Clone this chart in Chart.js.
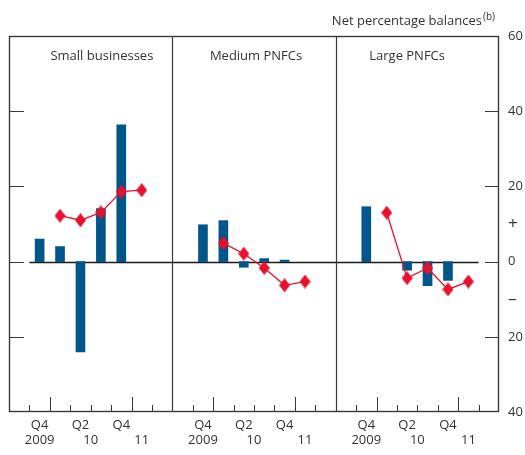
<!DOCTYPE html>
<html>
<head>
<meta charset="utf-8">
<script src="https://cdn.jsdelivr.net/npm/chart.js@4.4.1/dist/chart.umd.min.js"></script>
<style>
  html, body { margin: 0; padding: 0; background: #fff; }
</style>
</head>
<body>
<canvas id="chart" width="525" height="455"></canvas>
<script>
// quarters in each panel: Q3 2009 .. Q2 2011
const QUARTERS = ['2009 Q3', '2009 Q4', '2010 Q1', '2010 Q2', '2010 Q3', '2010 Q4', '2011 Q1', '2011 Q2'];
const PANELS = ['Small businesses', 'Medium PNFCs', 'Large PNFCs'];

// bars (null = nothing drawn)
const SMALL_BARS  = [null, 6, 4, -24, 14.1, 36.4, null, null];
const MEDIUM_BARS = [null, 9.8, 10.9, -1.5, 0.8, 0.4, null, null];
const LARGE_BARS  = [null, 14.6, null, -2.3, -6.4, -5.0, null, null];

// red diamonds
const SMALL_DIAMONDS  = [null, null, 12.2, 11.0, 13.1, 18.6, 19.0, null];
const MEDIUM_DIAMONDS = [null, null, 4.9, 2.1, -1.7, -6.3, -5.3, null];
const LARGE_DIAMONDS  = [null, null, 13.0, -4.4, -1.7, -7.4, -5.3, null];

const Q_LABELS = ['', 'Q4', '', 'Q2', '', 'Q4', '', ''];
const YEAR_LABELS = ['2009', '10', '11'];
const YEAR_SLOTS = [1.5, 4, 6.5];

const Y_TICKS = [60, 40, 20, 10, 0, -10, -20, -40];
const Y_TICK_LABELS = ['60', '40', '20', '+', '0', '\u2013', '20', '40'];
const Y_MARKS = [40, 20, 0, -20];

const TITLE_POS = [4.55, 12.1, 19.5];

const BLUE = '#00558b';
const RED = '#e8112d';
const TEXT = '#333333';
const LINE = '#3a3a3a';
const FONT = "'Open Sans', sans-serif";

const N = QUARTERS.length;
const allBars = [SMALL_BARS, MEDIUM_BARS, LARGE_BARS];
const allDiamonds = [SMALL_DIAMONDS, MEDIUM_DIAMONDS, LARGE_DIAMONDS];

// build points across the three panels
const barPoints = [];
const linePoints = [];
allBars.forEach((arr, p) => {
  arr.forEach((v, i) => { if (v !== null) barPoints.push({ x: p * N + i + 0.5, y: v }); });
});
allDiamonds.forEach((arr, p) => {
  arr.forEach((v, i) => { if (v !== null) linePoints.push({ x: p * N + i + 0.5, y: v }); });
  linePoints.push({ x: p * N + N, y: null }); // break between panels
});

const qTicks = [], qText = [], yearTicks = [], yearText = [];
for (let p = 0; p < PANELS.length; p++) {
  Q_LABELS.forEach((l, i) => { if (l) { qTicks.push(p * N + i + 0.5); qText.push(l); } });
  YEAR_SLOTS.forEach((s, i) => { yearTicks.push(p * N + s); yearText.push(YEAR_LABELS[i]); });
}

// tall diamond marker
const diamond = document.createElement('canvas');
diamond.width = 11; diamond.height = 14;
const dctx = diamond.getContext('2d');
dctx.fillStyle = RED;
dctx.beginPath();
dctx.moveTo(5.5, 0); dctx.lineTo(11, 7); dctx.lineTo(5.5, 14); dctx.lineTo(0, 7);
dctx.closePath(); dctx.fill();

const panelFrame = {
  id: 'panelFrame',
  beforeDatasetsDraw(chart) {
    const { ctx, scales: { x, y } } = chart;
    const y0 = Math.round(y.getPixelForValue(0)) + 0.5;
    ctx.save();
    ctx.strokeStyle = '#1a1a1a';
    ctx.lineWidth = 1.3;
    ctx.beginPath();
    ctx.moveTo(x.getPixelForValue(1), y0);
    ctx.lineTo(x.getPixelForValue(PANELS.length * N - 1), y0);
    ctx.stroke();
    ctx.restore();
  },
  afterDatasetsDraw(chart) {
    const { ctx, chartArea: a, scales: { x, y } } = chart;
    ctx.save();
    ctx.strokeStyle = LINE;
    ctx.lineWidth = 1.4;
    ctx.strokeRect(a.left + 0.5, a.top + 0.5, a.width - 1, a.height - 1);

    ctx.lineWidth = 1.2;
    ctx.beginPath();
    for (let p = 1; p < PANELS.length; p++) {
      const px = Math.round(x.getPixelForValue(p * N)) + 0.5;
      ctx.moveTo(px, a.top); ctx.lineTo(px, a.bottom);
    }
    // y tick marks inside, both sides
    Y_MARKS.forEach(v => {
      const py = Math.round(y.getPixelForValue(v)) + 0.5;
      ctx.moveTo(a.left, py); ctx.lineTo(a.left + 15, py);
      ctx.moveTo(a.right - 14, py); ctx.lineTo(a.right, py);
    });
    ctx.stroke();

    // x tick marks at quarter boundaries, long ones at year ends
    ctx.lineWidth = 1;
    ctx.beginPath();
    for (let p = 0; p < PANELS.length; p++) {
      for (let k = 1; k < N; k++) {
        const px = Math.round(x.getPixelForValue(p * N + k)) + 0.5;
        const len = (k === 2 || k === 6) ? 15 : 7;
        ctx.moveTo(px, a.bottom);
        ctx.lineTo(px, a.bottom - len);
      }
    }
    ctx.stroke();

    ctx.fillStyle = TEXT;
    ctx.font = '13px ' + FONT;
    ctx.textAlign = 'center';
    ctx.textBaseline = 'middle';
    PANELS.forEach((t, i) => ctx.fillText(t, x.getPixelForValue(TITLE_POS[i]), a.top + 20));

    ctx.textAlign = 'right';
    ctx.textBaseline = 'alphabetic';
    ctx.fillText('Net percentage balances', a.right - 17, 25);
    ctx.textAlign = 'left';
    ctx.font = '10px ' + FONT;
    ctx.fillText('(b)', a.right - 16, 20);
    ctx.restore();
  }
};

new Chart(document.getElementById('chart'), {
  data: {
    datasets: [
      {
        type: 'line',
        data: linePoints,
        borderColor: RED,
        borderWidth: 1.3,
        pointStyle: diamond,
        spanGaps: false,
        order: 0
      },
      {
        type: 'bar',
        data: barPoints,
        backgroundColor: BLUE,
        barThickness: 9,
        order: 1
      }
    ]
  },
  options: {
    responsive: false,
    devicePixelRatio: 1,
    animation: false,
    layout: { padding: { left: 9, top: 36, right: 0, bottom: 0 } },
    plugins: { legend: { display: false }, tooltip: { enabled: false } },
    scales: {
      x: {
        type: 'linear',
        offset: false,
        min: 0,
        max: PANELS.length * N,
        grid: { display: false, drawTicks: false, offset: false },
        border: { display: false },
        afterBuildTicks: s => { s.ticks = qTicks.map(v => ({ value: v })); },
        afterFit: s => { s.height = 19; },
        ticks: {
          padding: 5,
          autoSkip: false,
          maxRotation: 0,
          color: TEXT,
          font: { family: FONT, size: 13 },
          callback: v => qText[qTicks.indexOf(v)]
        }
      },
      x2: {
        type: 'linear',
        position: 'bottom',
        offset: false,
        min: 0,
        max: PANELS.length * N,
        grid: { display: false, drawTicks: false },
        border: { display: false },
        afterBuildTicks: s => { s.ticks = yearTicks.map(v => ({ value: v })); },
        afterFit: s => { s.height = 24; },
        ticks: {
          padding: 1,
          autoSkip: false,
          maxRotation: 0,
          color: TEXT,
          font: { family: FONT, size: 13 },
          callback: v => yearText[yearTicks.indexOf(v)]
        }
      },
      y: {
        position: 'right',
        min: -40,
        max: 60,
        grid: { display: false, drawTicks: false },
        border: { display: false },
        afterBuildTicks: s => { s.ticks = Y_TICKS.map(v => ({ value: v })); },
        afterFit: s => { s.width = 26; },
        ticks: {
          padding: 9,
          color: TEXT,
          font: c => ({ family: FONT, size: (c.tick && (c.tick.value === 10 || c.tick.value === -10)) ? 17 : 13 }),
          callback: v => Y_TICK_LABELS[Y_TICKS.indexOf(v)]
        }
      }
    }
  },
  plugins: [panelFrame]
});
</script>
</body>
</html>
